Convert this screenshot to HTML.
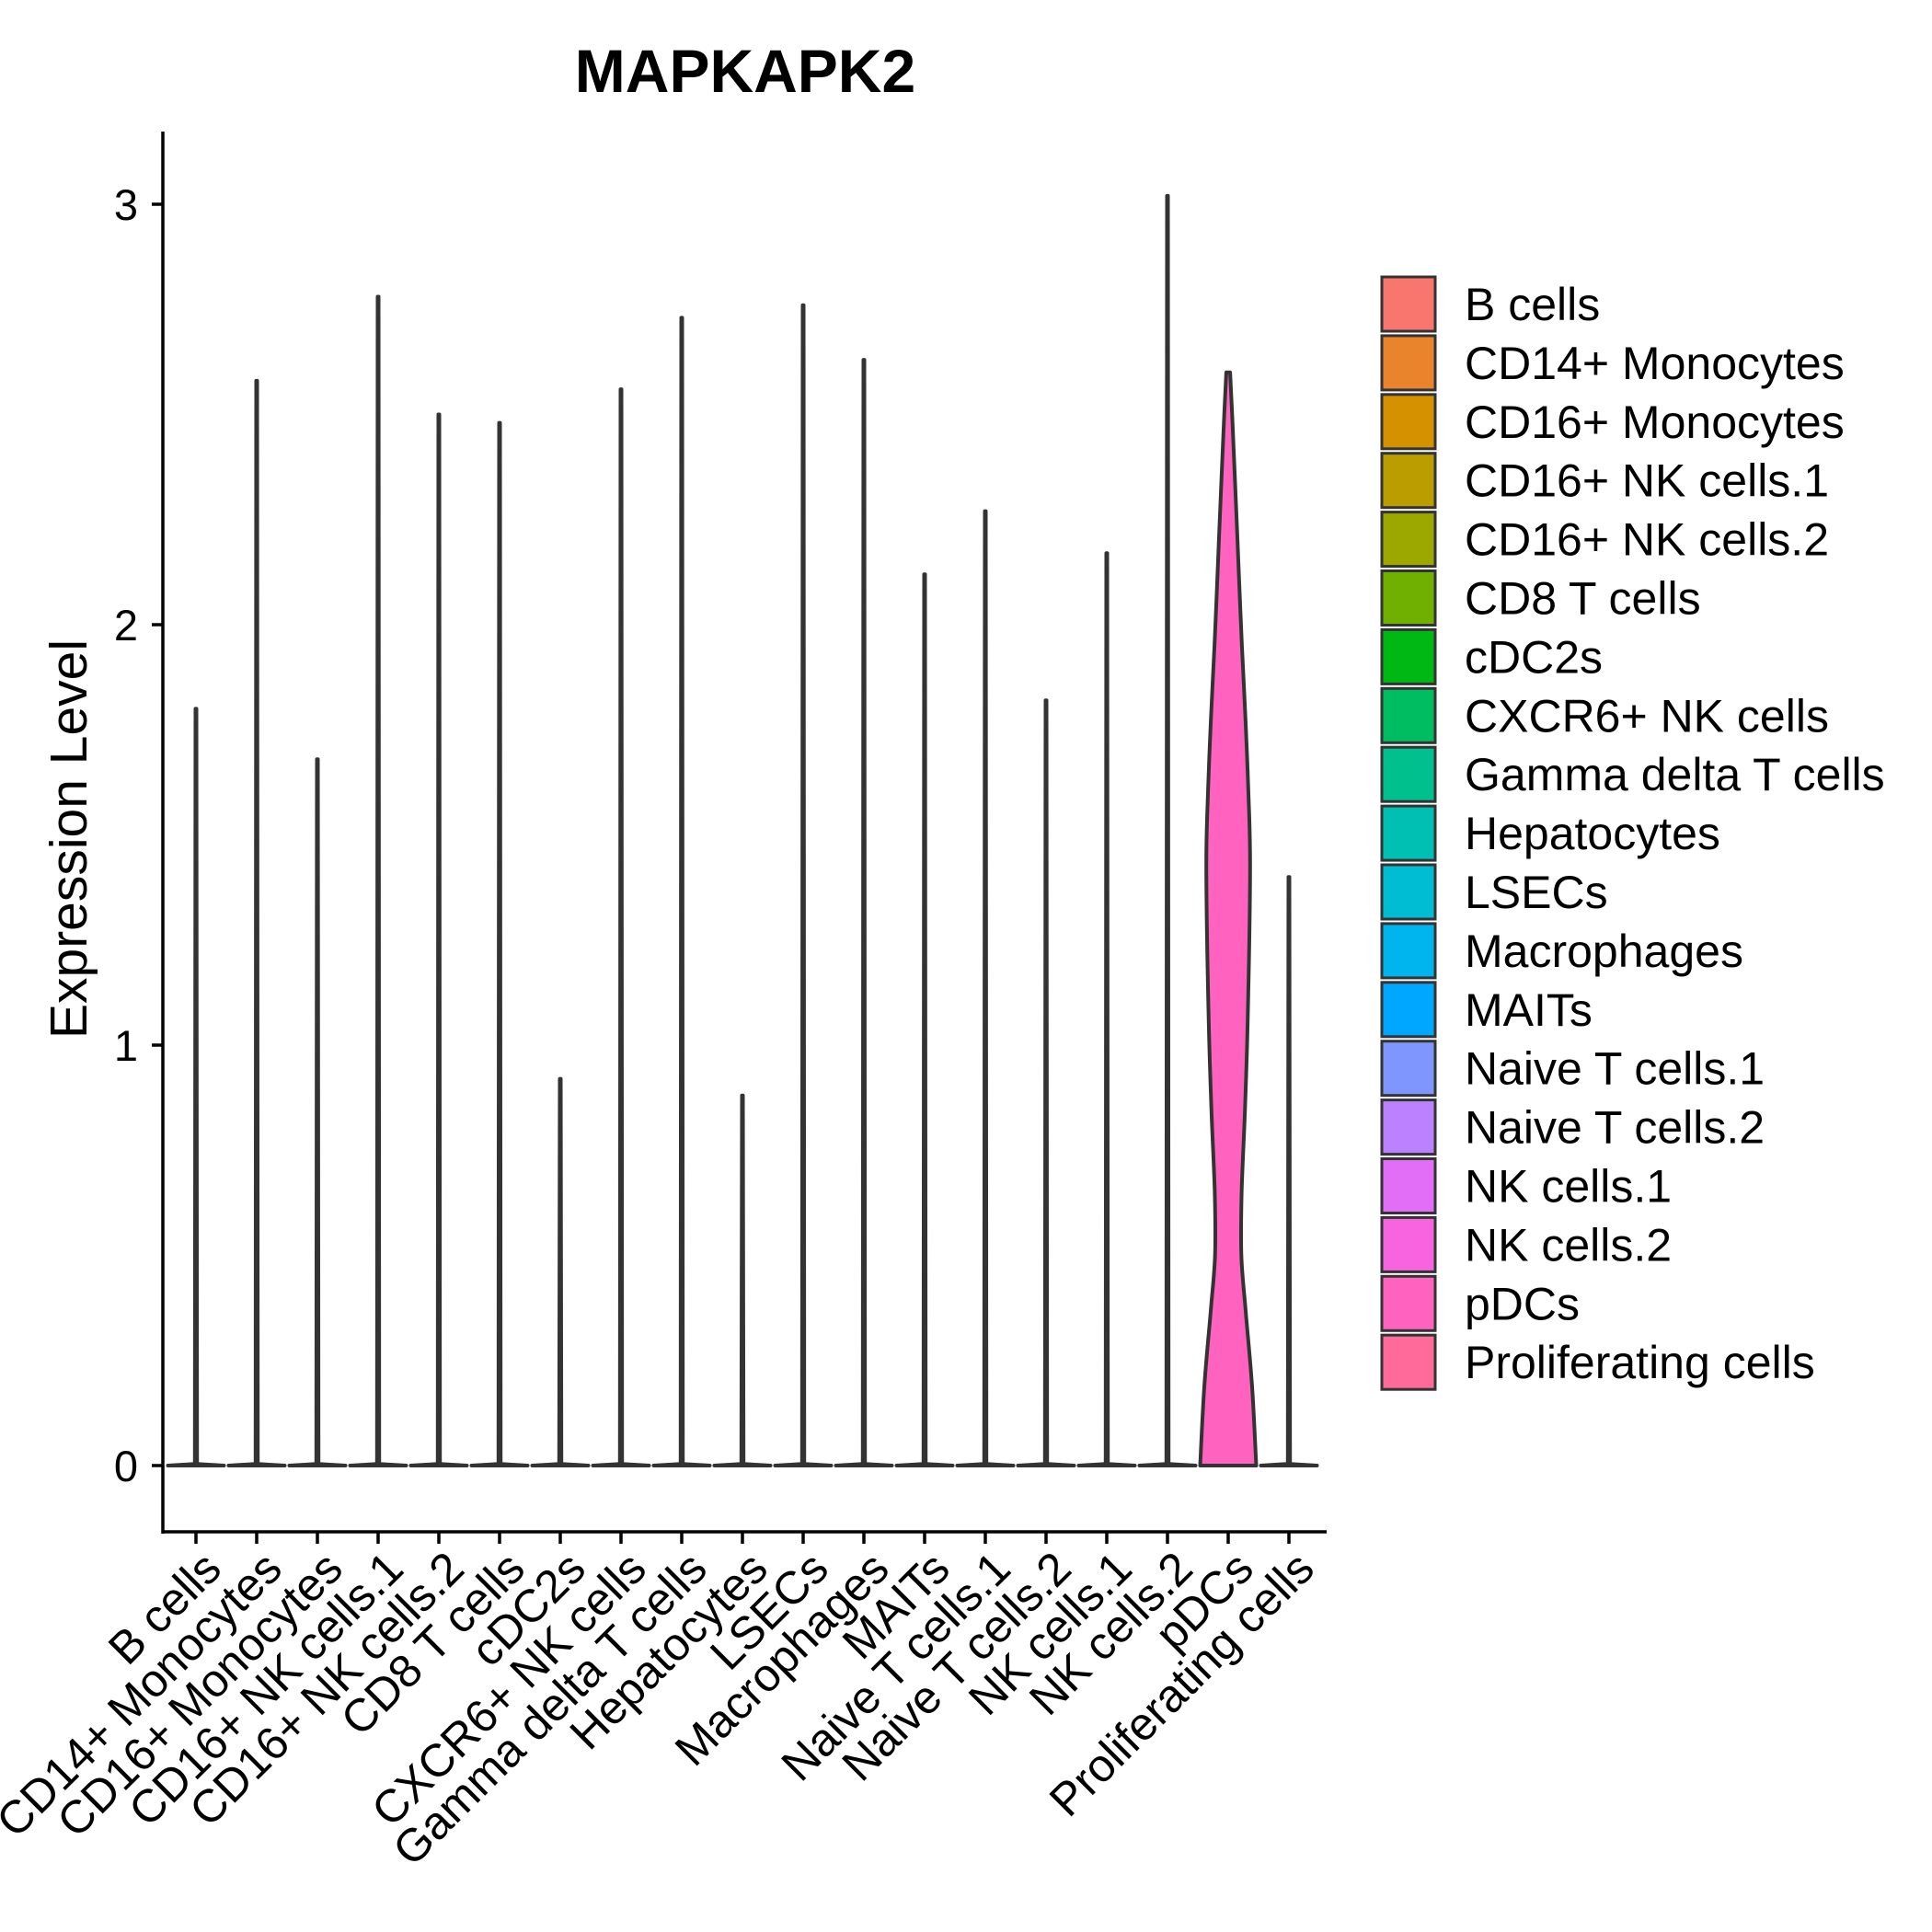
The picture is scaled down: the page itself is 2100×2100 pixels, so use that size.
<!DOCTYPE html>
<html><head><meta charset="utf-8"><style>
html,body{margin:0;padding:0;background:#fff;}
svg{display:block;font-family:"Liberation Sans",Arial,sans-serif;}
</style></head><body>
<svg id="chart" width="2100" height="2100" viewBox="0 0 2100 2100" xmlns="http://www.w3.org/2000/svg">
<rect width="2100" height="2100" fill="#fff"/>
<text x="810" y="100" font-size="66" font-weight="bold" text-anchor="middle">MAPKAPK2</text>
<text transform="translate(94,912) rotate(-90)" font-size="57" text-anchor="middle">Expression Level</text>
<g id="plot"></g>
<g id="legend"></g>
</svg>
<script>
const categories = ["B cells","CD14+ Monocytes","CD16+ Monocytes","CD16+ NK cells.1","CD16+ NK cells.2","CD8 T cells","cDC2s","CXCR6+ NK cells","Gamma delta T cells","Hepatocytes","LSECs","Macrophages","MAITs","Naive T cells.1","Naive T cells.2","NK cells.1","NK cells.2","pDCs","Proliferating cells"];
const maxValues = [1.80,2.58,1.68,2.78,2.50,2.48,0.92,2.56,2.73,0.88,2.76,2.63,2.12,2.27,1.82,2.17,3.02,2.60,1.40];
const colors = ["#F8766D","#E9842C","#D69100","#BC9D00","#9CA700","#6FB000","#00B813","#00BD61","#00C08E","#00C0B4","#00BDD4","#00B5EE","#00A7FF","#7F96FF","#BC81FF","#E26EF7","#F863DF","#FF62BF","#FF6A9A"];
const yTicks = [0,1,2,3];
// pDCs density profile (value, relative half-width)
const pdcLevels = [0,0.19,0.37,0.50,0.65,0.85,1.07,1.42,1.60,1.77,1.95,2.12,2.30,2.47,2.60];
const pdcWidths = [1.0,0.85,0.62,0.47,0.48,0.60,0.70,0.78,0.72,0.62,0.49,0.38,0.27,0.16,0.07];

const X0 = 213, XSTEP = 66, Y0 = 1593, YUNIT = 457, HW = 30.5;
const xs = i => X0 + i*XSTEP;
const ys = v => Y0 - v*YUNIT;
const NS = "http://www.w3.org/2000/svg";
const plot = document.getElementById('plot');
function mk(tag, attrs, parent){const e=document.createElementNS(NS,tag);for(const k in attrs)e.setAttribute(k,attrs[k]);parent.appendChild(e);return e;}
function smooth(p){
  let d = 'M'+p[0][0].toFixed(1)+','+p[0][1].toFixed(1);
  for(let k=0;k<p.length-1;k++){
    const a=p[Math.max(k-1,0)], b=p[k], c=p[k+1], e=p[Math.min(k+2,p.length-1)];
    const c1=[b[0]+(c[0]-a[0])/6, b[1]+(c[1]-a[1])/6];
    const c2=[c[0]-(e[0]-b[0])/6, c[1]-(e[1]-b[1])/6];
    d += 'C'+c1[0].toFixed(1)+','+c1[1].toFixed(1)+' '+c2[0].toFixed(1)+','+c2[1].toFixed(1)+' '+c[0].toFixed(1)+','+c[1].toFixed(1);
  }
  return d;
}

const ya = mk('line',{x1:177,y1:143,x2:177,y2:1667,stroke:'#000','stroke-width':3.5},plot);


const xa = mk('line',{x1:175.5,y1:1665,x2:1442,y2:1665,stroke:'#000','stroke-width':3.5},plot);



yTicks.forEach(t=>{
  const l = mk('line',{x1:165,y1:ys(t),x2:177,y2:ys(t),stroke:'#000','stroke-width':3.5},plot);
  
  
  const tx = mk('text',{x:150,y:ys(t)+17,'font-size':47,'text-anchor':'end',fill:'#000'},plot);
  tx.textContent = t;
  
  
});

categories.forEach((c,i)=>{
  const x = xs(i);
  const tk = mk('line',{x1:x,y1:1665,x2:x,y2:1678,stroke:'#000','stroke-width':3.5},plot);
  
  
  const tx = mk('text',{transform:`translate(${x+30},${1708}) rotate(-45)`,'font-size':50,'text-anchor':'end',fill:'#000'},plot);
  tx.textContent = c;
  
  

  let d;
  if (c === 'pDCs') {
    const lv = pdcLevels.slice(); lv[lv.length-1] = maxValues[i];
    const R = [], L = [];
    lv.forEach((v,k)=>{R.push([x+pdcWidths[k]*HW, ys(v)]);L.push([x-pdcWidths[k]*HW, ys(v)]);});
    d = smooth(R) + 'L' + smooth(L.reverse()).slice(1) + 'Z';
  } else {
    const m = maxValues[i];
    const prof = [[0,1],[0.004,0.04],[m,0.015]];
    const R = prof.map(p=>[x+p[1]*HW, ys(p[0])]);
    const L = prof.map(p=>[x-p[1]*HW, ys(p[0])]).reverse();
    const pts = R.concat(L);
    d = 'M' + pts.map(p=>p[0].toFixed(1)+','+p[1].toFixed(1)).join('L') + 'Z';
  }
  const vp = mk('path',{d:d,fill:colors[i],stroke:'#333333','stroke-width':4,'stroke-linejoin':'round'},plot);
  
  
});

const lg = document.getElementById('legend');
categories.forEach((c,i)=>{
  const y = 300 + i*63.9;
  const r = mk('rect',{x:1502,y:y+1,width:58,height:59,fill:colors[i],stroke:'#333333','stroke-width':3},lg);
  
  
  const t = mk('text',{x:1592,y:y+48,'font-size':50,fill:'#000'},lg);
  t.textContent = c;
  
  
});
</script>
</body></html>
